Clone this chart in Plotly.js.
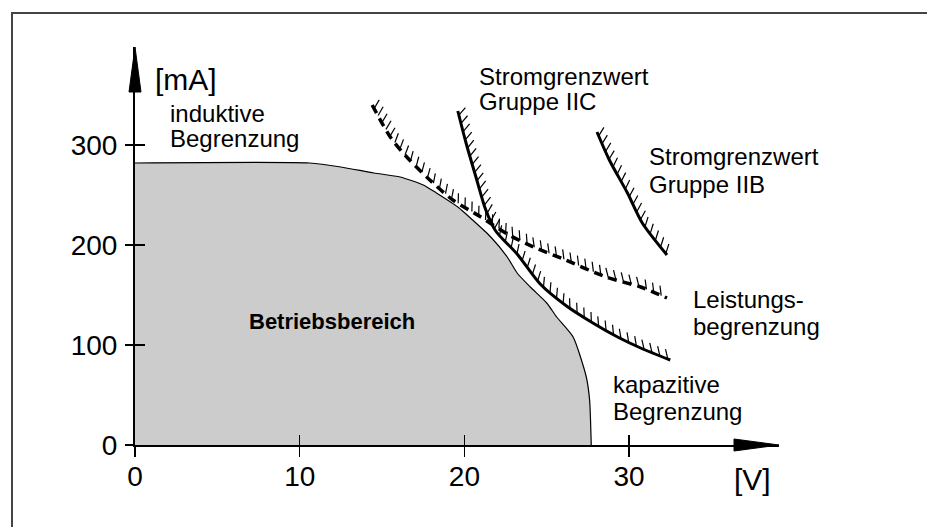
<!DOCTYPE html>
<html>
<head>
<meta charset="utf-8">
<script src="https://cdn.plot.ly/plotly-3.0.1.min.js"></script>
<style>html,body{margin:0;padding:0;background:#fff;}#chart{width:927px;height:527px;}</style>
</head>
<body>
<div id="chart"></div>
<script>
// ---- data (Spannung [V], Strom [mA]) ----
const areaV  = [0, 10.6, 12.5, 14.5, 16.1, 17.5, 18.3, 19.6, 20.5, 21.6, 22.6, 23.2, 24.0, 25.0, 25.6, 26.6, 27.4, 27.6, 27.7];
const areaI  = [282, 282, 278, 272, 268, 260, 252, 238, 225, 208, 188, 172, 158, 142, 128, 108, 68, 45, 0];
const iicV   = [19.6, 20.1, 20.7, 21.3, 21.9, 23.2, 24.6, 26.2, 27.8, 29.3, 30.7, 32.5];
const iicI   = [334, 302, 268, 235, 214, 191, 161, 139, 122, 108, 97, 85];
const powV   = [14.4, 15.5, 16.5, 17.9, 19.3, 21.0, 22.6, 24.2, 26.0, 28.6, 30.7, 32.3];
const powI   = [340, 308, 288, 265, 245, 228, 211, 198, 186, 168, 158, 147];
const iibV   = [28.05, 28.8, 29.9, 30.8, 32.3];
const iibI   = [313, 285, 252, 222, 190];
const xTicks = [0, 10, 20, 30];
const yTicks = [0, 100, 200, 300];

// ---- geometry ----
const W = 927, H = 527;
const M = {l: 135, r: 148, t: 47, b: 82};
const XMAX = 39.1, YMAX = 398;
const plotW = W - M.l - M.r, plotH = H - M.t - M.b;
const sx = plotW / XMAX, sy = plotH / YMAX;
const toPx = (x, y) => [M.l + x * sx, M.t + plotH - y * sy];
const toData = (px, py) => [(px - M.l) / sx, (M.t + plotH - py) / sy];
const pxX = px => (px - M.l) / plotW;
const pxY = py => (M.t + plotH - py) / plotH;

// hatch ticks along a curve, on the outer side
function hatch(xs, ys, step, len, angDeg) {
  const P = xs.map((x, i) => toPx(x, ys[i]));
  const a = angDeg * Math.PI / 180;
  const hx = [], hy = [];
  let carry = step / 2;
  for (let i = 0; i < P.length - 1; i++) {
    const dx = P[i+1][0] - P[i][0], dy = P[i+1][1] - P[i][1];
    const L = Math.hypot(dx, dy);
    const tx = dx / L, ty = dy / L;
    const nx = ty, ny = -tx;
    const vx = Math.cos(a) * nx - Math.sin(a) * tx;
    const vy = Math.cos(a) * ny - Math.sin(a) * ty;
    let s = carry;
    while (s <= L) {
      const px = P[i][0] + tx * s, py = P[i][1] + ty * s;
      const d0 = toData(px, py), d1 = toData(px + vx * len, py + vy * len);
      hx.push(d0[0], d1[0], null); hy.push(d0[1], d1[1], null);
      s += step;
    }
    carry = s - L;
  }
  return {hx, hy};
}

const hIIC = hatch(iicV, iicI, 8.5, 10, 35);
const hPow = hatch(powV, powI, 8, 10, 30);
const hIIB = hatch(iibV, iibI, 8.5, 10, 35);

const traces = [
  {x: areaV, y: areaI, type: 'scatter', mode: 'lines', fill: 'tozeroy',
   fillcolor: '#cccccc', line: {color: '#000', width: 1.2, shape: 'spline', smoothing: 0.6},
   hoverinfo: 'skip', showlegend: false},
  {x: hIIC.hx, y: hIIC.hy, type: 'scatter', mode: 'lines', line: {color: '#000', width: 1.2}, showlegend: false, hoverinfo: 'skip'},
  {x: iicV, y: iicI, type: 'scatter', mode: 'lines', line: {color: '#000', width: 3, shape: 'spline', smoothing: 0.8}, showlegend: false},
  {x: hPow.hx, y: hPow.hy, type: 'scatter', mode: 'lines', line: {color: '#000', width: 1.2}, showlegend: false, hoverinfo: 'skip'},
  {x: powV, y: powI, type: 'scatter', mode: 'lines', line: {color: '#000', width: 3.5, dash: '9px,6px', shape: 'spline', smoothing: 0.8}, showlegend: false},
  {x: hIIB.hx, y: hIIB.hy, type: 'scatter', mode: 'lines', line: {color: '#000', width: 1.2}, showlegend: false, hoverinfo: 'skip'},
  {x: iibV, y: iibI, type: 'scatter', mode: 'lines', line: {color: '#000', width: 3, shape: 'spline', smoothing: 0.8}, showlegend: false}
];

const FONT = 'Liberation Sans, Arial, sans-serif';
const lbl = (text, px, py, size, bold) => ({
  text: bold ? '<b>' + text + '</b>' : text, xref: 'paper', yref: 'paper',
  x: pxX(px), y: pxY(py), xanchor: 'left', yanchor: 'middle', showarrow: false,
  font: {family: FONT, size: size, color: '#000'}
});

const annotations = [
  lbl('[mA]', 153, 79, 30),
  lbl('induktive', 168, 113, 24),
  lbl('Begrenzung', 168, 138, 24),
  lbl('Stromgrenzwert', 477, 76, 24),
  lbl('Gruppe IIC', 477, 101, 24),
  lbl('Stromgrenzwert', 647, 156, 24),
  lbl('Gruppe IIB', 647, 185, 24),
  lbl('Leistungs-', 691, 299, 24),
  lbl('begrenzung', 691, 326, 24),
  lbl('kapazitive', 611, 384, 24),
  lbl('Begrenzung', 611, 411, 24),
  lbl('[V]', 732, 479, 30),
  Object.assign(lbl('Betriebsbereich', 332, 321, 22, true), {xanchor: 'center'})
];

const shapes = [
  {type: 'rect', xref: 'paper', yref: 'paper', x0: pxX(12), x1: pxX(940), y0: pxY(540), y1: pxY(13),
   line: {color: '#444', width: 2}, fillcolor: 'rgba(0,0,0,0)', layer: 'below'},
  {type: 'path', xref: 'paper', yref: 'paper',
   path: `M ${pxX(734)},${pxY(439)} L ${pxX(779)},${pxY(445)} L ${pxX(734)},${pxY(451)} Z`,
   fillcolor: '#000', line: {color: '#000', width: 1}},
  {type: 'path', xref: 'paper', yref: 'paper',
   path: `M ${pxX(129)},${pxY(92)} L ${pxX(135)},${pxY(47)} L ${pxX(141)},${pxY(92)} Z`,
   fillcolor: '#000', line: {color: '#000', width: 1}}
];

const axBase = {showgrid: false, zeroline: false, fixedrange: true};
const layout = {
  width: W, height: H, margin: M, paper_bgcolor: '#fff', plot_bgcolor: '#fff',
  font: {family: FONT, color: '#000'},
  xaxis: Object.assign({}, axBase, {range: [0, XMAX], showline: true, linecolor: '#000', linewidth: 2,
    tickvals: xTicks, ticktext: xTicks.map(String), ticks: 'outside', ticklen: 10, tickwidth: 1.5, tickcolor: '#000',
    tickfont: {size: 28, family: FONT}, ticklabelstandoff: -5}),
  yaxis: Object.assign({}, axBase, {range: [0, YMAX], showline: true, linecolor: '#000', linewidth: 2,
    tickvals: yTicks, ticktext: yTicks.map(String), ticks: 'outside', ticklen: 8, tickwidth: 1.5, tickcolor: '#000',
    tickfont: {size: 28, family: FONT}, ticklabelstandoff: 2}),
  xaxis2: Object.assign({}, axBase, {range: [0, XMAX], overlaying: 'x', anchor: 'y', side: 'bottom',
    tickvals: xTicks, showticklabels: false, ticks: 'inside', ticklen: 10, tickwidth: 1.5, tickcolor: '#000'}),
  yaxis2: Object.assign({}, axBase, {range: [0, YMAX], overlaying: 'y', anchor: 'x', side: 'left',
    tickvals: yTicks, showticklabels: false, ticks: 'inside', ticklen: 10, tickwidth: 1.5, tickcolor: '#000'}),
  annotations: annotations, shapes: shapes, showlegend: false
};

traces.push({x: [0], y: [0], xaxis: 'x2', yaxis: 'y2', type: 'scatter', mode: 'markers',
  marker: {opacity: 0}, showlegend: false, hoverinfo: 'skip'});

Plotly.newPlot('chart', traces, layout, {staticPlot: true, displayModeBar: false});
</script>
</body>
</html>
